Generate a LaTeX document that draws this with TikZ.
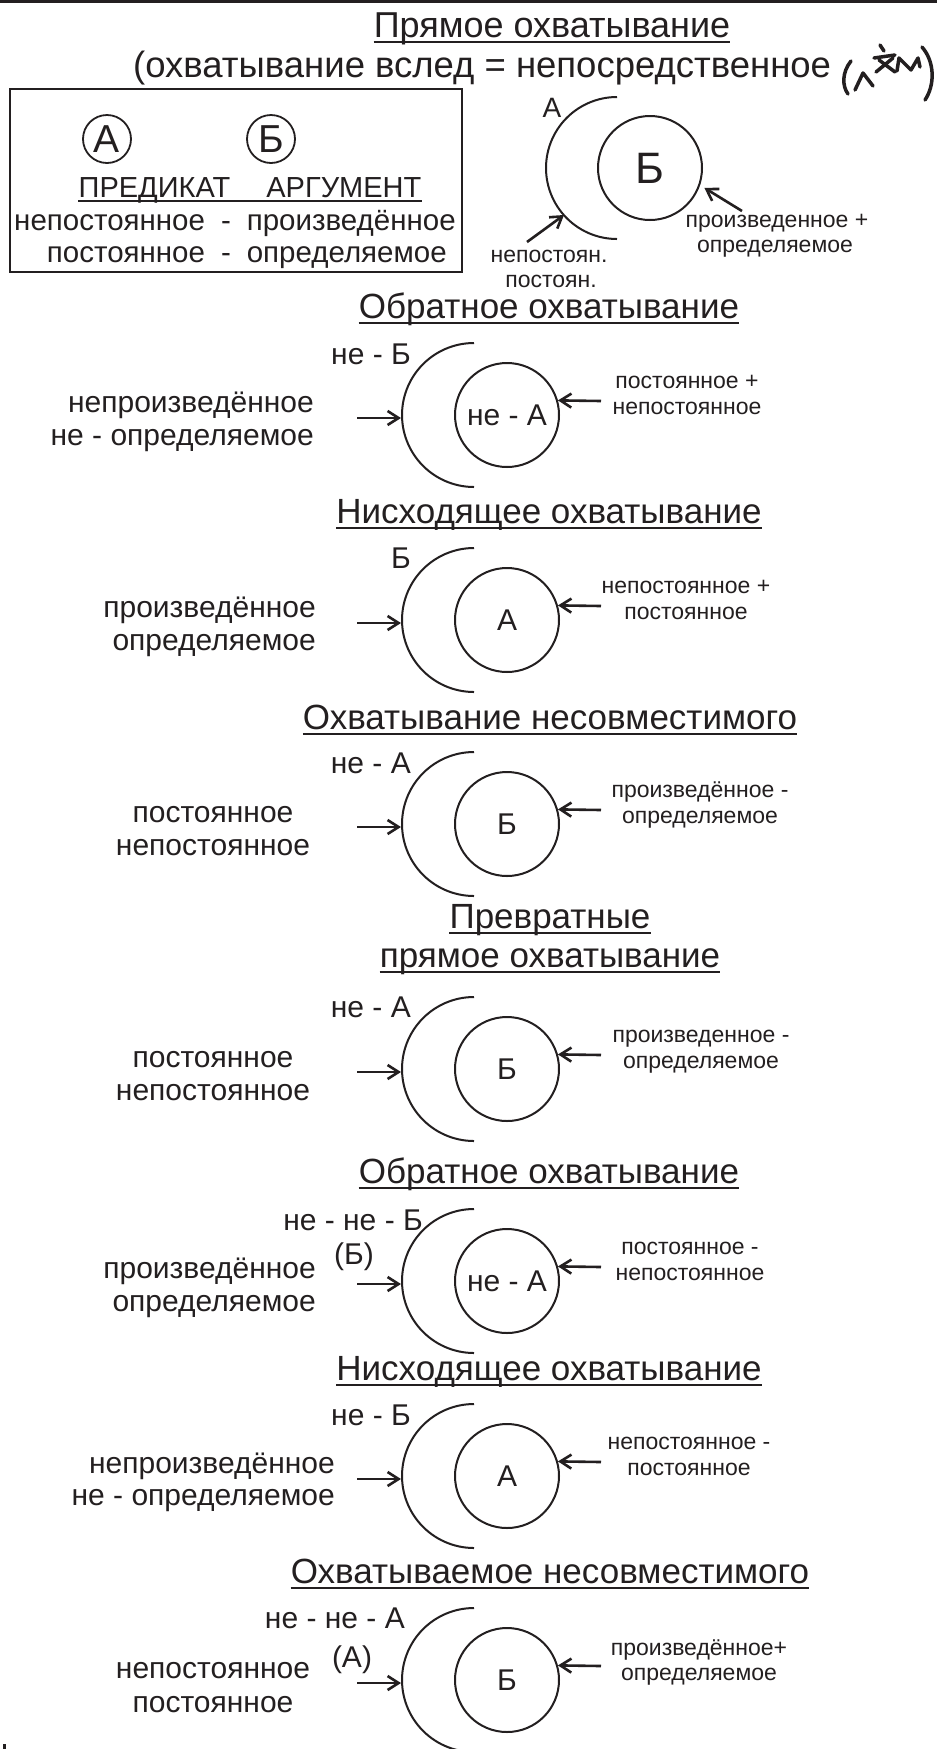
\documentclass[tikz,border=0pt]{standalone}
\usepackage{fontspec}
\setmainfont{Liberation Sans}
\usetikzlibrary{arrows.meta}
\definecolor{ink}{HTML}{231F20}

\begin{document}
\begin{tikzpicture}[x=1pt, y=-1pt, color=ink,
    ttl/.style={anchor=base, inner sep=0pt, font=\fontsize{35}{40}\selectfont},
    big/.style={anchor=base, inner sep=0pt, font=\fontsize{30}{33}\selectfont},
    sml/.style={anchor=base, inner sep=0pt, font=\fontsize{23}{26}\selectfont},
    uline/.style={line width=1.8pt},
    moon/.style={line width=2pt},
    ring/.style={draw, circle, line width=2pt, minimum size=104pt, inner sep=0pt, font=\fontsize{30}{33}\selectfont},
    letter/.style={draw, circle, line width=1.8pt, minimum size=48pt, inner sep=0pt, font=\fontsize{39}{40}\selectfont},
    arr/.style={line width=2.6pt, -{Straight Barb[length=11pt, width=14pt]}},
    pen/.style={line width=3.5pt, line cap=round, line join=round}]
\useasboundingbox (0,0) rectangle (937,1749);
\fill [white] (0,0) rectangle (937,1749);
\draw [line width=3pt] (0,1) -- (937,1);
\fill (3,1744) rectangle (6,1749);

\node [ttl, font=\fontsize{36}{40}\selectfont] (h1) at (552,37) {Прямое охватывание};
\draw [uline] ([yshift=-5pt]h1.base west) -- ([yshift=-5pt]h1.base east);
\node [ttl, anchor=base west, font=\fontsize{36.5}{40}\selectfont] (h1b) at (133,77) {(охватывание вслед = непосредственное};
\draw [pen] (851,61) .. controls (842,72) and (842,86) .. (848,94);
\draw [pen] (855,90) -- (863,73) -- (873,86);
\draw [pen] (880,45) -- (884,51);
\draw [pen] (874,58) -- (895,55);
\draw [pen] (876,72) -- (893,58);
\draw [pen] (879,60) -- (895,72);
\draw [pen] (897,71) -- (899,58) -- (911,70) -- (918,58) -- (920,67);
\draw [pen] (922,47) .. controls (935,62) and (935,85) .. (925,100);

\draw [line width=2.5pt] (10,89) rectangle (462,272);
\node [letter] (pa) at (107,139) {А};
\node [letter] (pb) at (271,139) {Б};
\node [anchor=base, inner sep=0pt, font=\fontsize{29}{30}\selectfont] (roles) at (250,197) {ПРЕДИКАТ\hspace{36pt}АРГУМЕНТ};
\draw [uline] ([yshift=-4pt]roles.base west) -- ([yshift=-4pt]roles.base east);
\node [anchor=base, inner sep=0pt, font=\fontsize{29.5}{32}\selectfont] (pairs) at (235,230) {\begin{tabular}[t]{@{}r@{\hspace{16pt}-\hspace{16pt}}l@{}}непостоянное & произведённое\\ постоянное & определяемое\end{tabular}};

\draw [moon] plot [domain=90:270, samples=61, smooth] ({617+71*cos(\x)}, {168+71*sin(\x)});
\node [anchor=base, inner sep=0pt, font=\fontsize{28}{30}\selectfont] (a1) at (552,117) {А};
\node [ring, font=\fontsize{44}{46}\selectfont] (c1) at (650,168) {Б};
\coordinate (m1) at (564,215);
\coordinate (s1) at (527,242);
\coordinate (t1) at (742,211);
\draw [arr] (s1) -- (m1);
\draw [arr, shorten >=5pt] (t1) -- (c1.-19);
\node [sml] (l1a) at (549,262) {непостоян.};
\node [sml] (l1b) at (551,287) {постоян.};
\node [sml] (r1a) at (777,227) {произведенное +};
\node [sml] (r1b) at (775,252) {определяемое};

\node [ttl] (h2) at (549,318) {Обратное охватывание};
\draw [uline] ([yshift=-5pt]h2.base west) -- ([yshift=-5pt]h2.base east);
\begin{scope}[shift={(0,415)}]
\draw [moon] plot [domain=90:270, samples=61, smooth] ({474+72*cos(\x)}, {72*sin(\x)});
\node [ring] (c2) at (507,0) {не - А};
\coordinate (m2) at (401,3);
\coordinate (s2) at (357,3);
\coordinate (t2) at (601,-14);
\draw [arr] (s2) -- (m2);
\draw [arr] (t2) -- (c2.16);
\node [big, anchor=base east] (n2) at (411,-51) {не - Б};
\node [big, anchor=base east] (l2a) at (314,-3) {непроизведённое};
\node [big, anchor=base east] (l2b) at (314,30) {не - определяемое};
\node [sml] (r2a) at (687,-27) {постоянное +};
\node [sml] (r2b) at (687,-1) {непостоянное};
\end{scope}

\node [ttl] (h3) at (549,523) {Нисходящее охватывание};
\draw [uline] ([yshift=-5pt]h3.base west) -- ([yshift=-5pt]h3.base east);
\begin{scope}[shift={(0,620)}]
\draw [moon] plot [domain=90:270, samples=61, smooth] ({474+72*cos(\x)}, {72*sin(\x)});
\node [ring] (c3) at (507,0) {А};
\coordinate (m3) at (401,3);
\coordinate (s3) at (357,3);
\coordinate (t3) at (601,-14);
\draw [arr] (s3) -- (m3);
\draw [arr] (t3) -- (c3.16);
\node [big, anchor=base east] (n3) at (411,-52) {Б};
\node [big, anchor=base east] (l3a) at (316,-3) {произведённое};
\node [big, anchor=base east] (l3b) at (316,30) {определяемое};
\node [sml] (r3a) at (686,-27) {непостоянное +};
\node [sml] (r3b) at (686,-1) {постоянное};
\end{scope}

\node [ttl] (h4) at (550,729) {Охватывание несовместимого};
\draw [uline] ([yshift=-5pt]h4.base west) -- ([yshift=-5pt]h4.base east);
\begin{scope}[shift={(0,824)}]
\draw [moon] plot [domain=90:270, samples=61, smooth] ({474+72*cos(\x)}, {72*sin(\x)});
\node [ring] (c4) at (507,0) {Б};
\coordinate (m4) at (401,3);
\coordinate (s4) at (357,3);
\coordinate (t4) at (601,-14);
\draw [arr] (s4) -- (m4);
\draw [arr] (t4) -- (c4.16);
\node [big, anchor=base east] (n4) at (411,-51) {не - А};
\node [big] (l4a) at (213,-2) {постоянное};
\node [big] (l4b) at (213,31) {непостоянное};
\node [sml] (r4a) at (700,-27) {произведённое -};
\node [sml] (r4b) at (700,-1) {определяемое};
\end{scope}

\node [ttl] (h5) at (550,928) {Превратные};
\draw [uline] ([yshift=-5pt]h5.base west) -- ([yshift=-5pt]h5.base east);
\node [ttl] (h5b) at (550,967) {прямое охватывание};
\draw [uline] ([yshift=-5pt]h5b.base west) -- ([yshift=-5pt]h5b.base east);
\begin{scope}[shift={(0,1069)}]
\draw [moon] plot [domain=90:270, samples=61, smooth] ({474+72*cos(\x)}, {72*sin(\x)});
\node [ring] (c5) at (507,0) {Б};
\coordinate (m5) at (401,3);
\coordinate (s5) at (357,3);
\coordinate (t5) at (601,-14);
\draw [arr] (s5) -- (m5);
\draw [arr] (t5) -- (c5.16);
\node [big, anchor=base east] (n5) at (411,-52) {не - А};
\node [big] (l5a) at (213,-2) {постоянное};
\node [big] (l5b) at (213,31) {непостоянное};
\node [sml] (r5a) at (701,-27) {произведенное -};
\node [sml] (r5b) at (701,-1) {определяемое};
\end{scope}

\node [ttl] (h6) at (549,1183) {Обратное охватывание};
\draw [uline] ([yshift=-5pt]h6.base west) -- ([yshift=-5pt]h6.base east);
\begin{scope}[shift={(0,1281)}]
\draw [moon] plot [domain=90:270, samples=61, smooth] ({474+72*cos(\x)}, {72*sin(\x)});
\node [ring] (c6) at (507,0) {не - А};
\coordinate (m6) at (401,3);
\coordinate (s6) at (357,3);
\coordinate (t6) at (601,-14);
\draw [arr] (s6) -- (m6);
\draw [arr] (t6) -- (c6.16);
\node [big, anchor=base east] (n6) at (423,-51) {не - не - Б};
\node [big] (p6) at (354,-17) {(Б)};
\node [big, anchor=base east] (l6a) at (316,-3) {произведённое};
\node [big, anchor=base east] (l6b) at (316,30) {определяемое};
\node [sml] (r6a) at (690,-27) {постоянное -};
\node [sml] (r6b) at (690,-1) {непостоянное};
\end{scope}

\node [ttl] (h7) at (549,1380) {Нисходящее охватывание};
\draw [uline] ([yshift=-5pt]h7.base west) -- ([yshift=-5pt]h7.base east);
\begin{scope}[shift={(0,1476)}]
\draw [moon] plot [domain=90:270, samples=61, smooth] ({474+72*cos(\x)}, {72*sin(\x)});
\node [ring] (c7) at (507,0) {А};
\coordinate (m7) at (401,3);
\coordinate (s7) at (357,3);
\coordinate (t7) at (601,-14);
\draw [arr] (s7) -- (m7);
\draw [arr] (t7) -- (c7.16);
\node [big, anchor=base east] (n7) at (411,-51) {не - Б};
\node [big, anchor=base east] (l7a) at (335,-3) {непроизведённое};
\node [big, anchor=base east] (l7b) at (335,29) {не - определяемое};
\node [sml] (r7a) at (689,-27) {непостоянное -};
\node [sml] (r7b) at (689,-1) {постоянное};
\end{scope}

\node [ttl] (h8) at (550,1583) {Охватываемое несовместимого};
\draw [uline] ([yshift=-5pt]h8.base west) -- ([yshift=-5pt]h8.base east);
\begin{scope}[shift={(0,1680)}]
\draw [moon] plot [domain=90:270, samples=61, smooth] ({474+72*cos(\x)}, {72*sin(\x)});
\node [ring] (c8) at (507,0) {Б};
\coordinate (m8) at (401,3);
\coordinate (s8) at (357,3);
\coordinate (t8) at (601,-14);
\draw [arr] (s8) -- (m8);
\draw [arr] (t8) -- (c8.16);
\node [big, anchor=base east] (n8) at (405,-52) {не - не - А};
\node [big] (p8) at (352,-13) {(А)};
\node [big] (l8a) at (213,-2) {непостоянное};
\node [big] (l8b) at (213,32) {постоянное};
\node [sml] (r8a) at (699,-25) {произведённое+};
\node [sml] (r8b) at (699,0) {определяемое};
\end{scope}
\end{tikzpicture}
\end{document}
